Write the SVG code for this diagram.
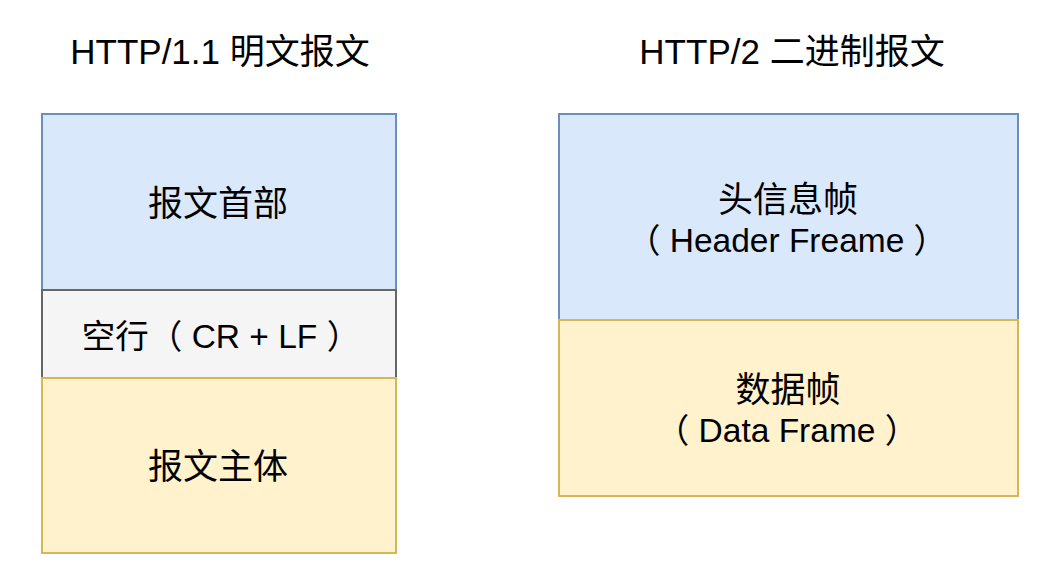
<svg xmlns="http://www.w3.org/2000/svg" width="1046" height="565" viewBox="0 0 1046 565">
<style>
text { font-family: "Liberation Sans", "Noto Sans CJK SC", sans-serif; fill: #000; text-anchor: middle; }
.t { font-size: 35px; }
.l { font-size: 35px; }
.m { font-size: 33.5px; }
.blue { fill: #dae8fc; stroke: #6c8ebf; stroke-width: 2; }
.gray { fill: #f5f5f5; stroke: #666666; stroke-width: 2; }
.yellow { fill: #fff2cc; stroke: #d6b656; stroke-width: 2; }
</style>
<rect width="1046" height="565" fill="#ffffff"/>
<g id="title-left"><text class="t" x="220" y="64">HTTP/1.1 明文报文</text></g>
<g id="title-right"><text class="t" x="792" y="64">HTTP/2 二进制报文</text></g>
<g id="header-left"><rect class="blue" x="42" y="114" width="354" height="176"/><text class="l" x="218" y="216">报文首部</text></g>
<g id="blank-line"><rect class="gray" x="42" y="290" width="354" height="88"/><text class="m" x="221" y="348">空行（ CR + LF ）</text></g>
<g id="body-left"><rect class="yellow" x="42" y="378" width="354" height="175"/><text class="l" x="218" y="479">报文主体</text></g>
<g id="header-frame"><rect class="blue" x="559" y="114" width="459" height="206"/><text class="l" x="788" y="212">头信息帧</text><text class="m" x="787" y="252">（ Header Freame ）</text></g>
<g id="data-frame"><rect class="yellow" x="559" y="320" width="459" height="176"/><text class="l" x="788" y="402">数据帧</text><text class="m" x="787" y="442">（ Data Frame ）</text></g>
<g id="connectors"></g>
</svg>
